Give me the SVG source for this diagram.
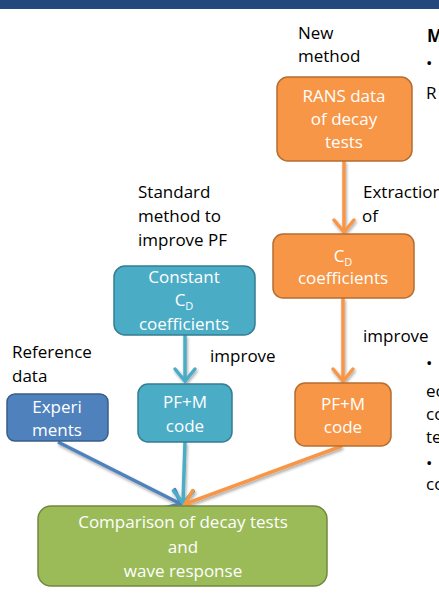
<svg xmlns="http://www.w3.org/2000/svg" width="439" height="610" viewBox="0 0 439 610">
<style>
  text { font-family: "Open Sans", "Noto Sans", "Liberation Sans", sans-serif; font-size: 17px; fill: #000; }
  .w { fill: #ffffff; text-anchor: middle; }
  .sub { font-size: 11px; }
  .orange { fill: #F79646; stroke: #B66D31; stroke-width: 1.5; }
  .teal { fill: #4BACC6; stroke: #357D91; stroke-width: 1.5; }
  .blue { fill: #4F81BD; stroke: #385D8A; stroke-width: 1.5; }
  .green { fill: #9BBB59; stroke: #71893F; stroke-width: 1.5; }
  .conn { fill: none; stroke-width: 3.5; }
</style>
<defs>
  <filter id="sh" x="-20%" y="-20%" width="140%" height="140%">
    <feGaussianBlur in="SourceAlpha" stdDeviation="1.5"/>
    <feOffset dx="1" dy="1.5" result="b"/>
    <feComponentTransfer><feFuncA type="linear" slope="0.35"/></feComponentTransfer>
    <feMerge><feMergeNode/><feMergeNode in="SourceGraphic"/></feMerge>
  </filter>
  <marker id="ao" markerUnits="userSpaceOnUse" markerWidth="30" markerHeight="30" viewBox="-15 -15 30 30" refX="0" refY="0" orient="auto">
    <path d="M-12,-10 L0,0 L-12,10" fill="none" stroke="#F79646" stroke-width="3.5" stroke-linecap="round"/>
  </marker>
  <marker id="at" markerUnits="userSpaceOnUse" markerWidth="30" markerHeight="30" viewBox="-15 -15 30 30" refX="0" refY="0" orient="auto">
    <path d="M-12,-10 L0,0 L-12,10" fill="none" stroke="#4BACC6" stroke-width="3.5" stroke-linecap="round"/>
  </marker>
  <marker id="ab" markerUnits="userSpaceOnUse" markerWidth="30" markerHeight="30" viewBox="-15 -15 30 30" refX="0" refY="0" orient="auto">
    <path d="M-12,-10 L0,0 L-12,10" fill="none" stroke="#4F81BD" stroke-width="3.5" stroke-linecap="round"/>
  </marker>
</defs>

<rect x="0" y="0" width="439" height="9" fill="#23497C"/>

<!-- labels -->
<g id="labels">
  <text x="298" y="39">New</text>
  <text x="298" y="62">method</text>
  <text x="138" y="198">Standard</text>
  <text x="138" y="222">method to</text>
  <text x="138" y="246">improve PF</text>
  <text x="363" y="198">Extraction</text>
  <text x="362" y="222">of</text>
  <text x="210" y="362">improve</text>
  <text x="363" y="342">improve</text>
  <text x="12" y="358">Reference</text>
  <text x="12" y="382">data</text>
</g>

<!-- right-side clipped text -->
<g id="side">
  <text x="427" y="42" font-weight="bold" style="font-weight:bold">M</text>
  <text x="426" y="69">•</text>
  <text x="426" y="99">R</text>
  <text x="426" y="369">•</text>
  <text x="426" y="397">ec</text>
  <text x="426" y="420">co</text>
  <text x="426" y="443">te</text>
  <text x="426" y="469">•</text>
  <text x="426" y="490">co</text>
</g>

<g id="connectors" filter="url(#sh)">
  <path class="conn" stroke="#F79646" d="M344,161 L344,232" marker-end="url(#ao)"/>
  <path class="conn" stroke="#F79646" d="M343,298 L343,381" marker-end="url(#ao)"/>
  <path class="conn" stroke="#4BACC6" d="M185,335 L185,381" marker-end="url(#at)"/>
  <path class="conn" stroke="#4F81BD" d="M58,442 L181,504" marker-end="url(#ab)"/>
  <path class="conn" stroke="#4BACC6" d="M185,442 L183,503" marker-end="url(#at)"/>
  <path class="conn" stroke="#F79646" d="M342,446 L185,504" marker-end="url(#ao)"/>
</g>

<g id="rans">
  <rect class="orange" x="277" y="77" width="135" height="84" rx="11"/>
  <text class="w" x="344" y="102">RANS data</text>
  <text class="w" x="344" y="125">of decay</text>
  <text class="w" x="344" y="148">tests</text>
</g>

<g id="cd">
  <rect class="orange" x="273" y="234" width="141" height="64" rx="10"/>
  <text class="w" x="343" y="262">C<tspan class="sub" dy="4">D</tspan></text>
  <text class="w" x="343" y="284">coefficients</text>
</g>

<g id="pfm-orange">
  <rect class="orange" x="295" y="383" width="96" height="63" rx="10"/>
  <text class="w" x="343" y="410">PF+M</text>
  <text class="w" x="343" y="433">code</text>
</g>

<g id="constant">
  <rect class="teal" x="114" y="266" width="141" height="69" rx="11"/>
  <text class="w" x="184" y="283">Constant</text>
  <text class="w" x="184" y="306">C<tspan class="sub" dy="4">D</tspan></text>
  <text class="w" x="184" y="330">coefficients</text>
</g>

<g id="pfm-teal">
  <rect class="teal" x="138" y="384" width="94" height="58" rx="10"/>
  <text class="w" x="185" y="408">PF+M</text>
  <text class="w" x="185" y="432">code</text>
</g>

<g id="experiments">
  <rect class="blue" x="7" y="394" width="101" height="47" rx="8"/>
  <text class="w" x="57" y="413">Experi</text>
  <text class="w" x="57" y="436">ments</text>
</g>

<g id="comparison">
  <rect class="green" x="38" y="506" width="289" height="80" rx="13"/>
  <text class="w" x="183" y="528">Comparison of decay tests</text>
  <text class="w" x="183" y="553">and</text>
  <text class="w" x="183" y="577">wave response</text>
</g>
</svg>
